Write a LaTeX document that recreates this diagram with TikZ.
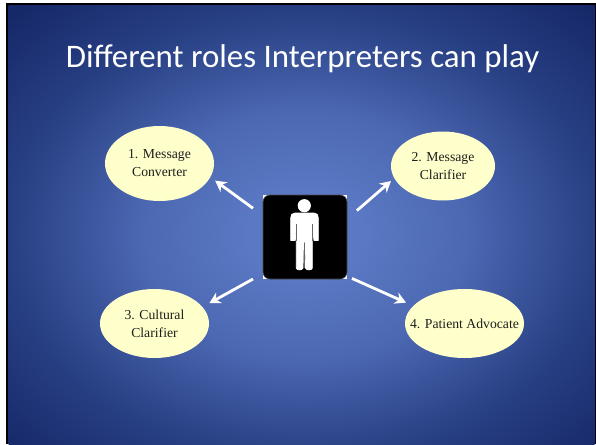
\documentclass[tikz,border=0pt]{standalone}
\usepackage{fontspec}
\usetikzlibrary{shapes.geometric,arrows.meta}
\setmainfont{Liberation Serif}
\newfontfamily\titlefont{Carlito}
\definecolor{cream}{RGB}{255,255,204}
\definecolor{bgA}{RGB}{90,120,195}
\definecolor{bgB}{RGB}{76,104,178}
\definecolor{bgC}{RGB}{40,64,132}
\definecolor{bgD}{RGB}{22,40,104}
\definecolor{inktext}{RGB}{30,30,30}
\pgfdeclareradialshading{slidebg}{\pgfpoint{0bp}{0bp}}{%
  color(0bp)=(bgA);color(4bp)=(bgA);color(11.2bp)=(bgB);color(20bp)=(bgC);color(28.3bp)=(bgD);color(50bp)=(bgD)}
\tikzset{
  role/.style={ellipse,fill=cream,inner sep=0pt,outer sep=0pt,align=center,text=inktext,
    font=\fontsize{13.7}{18}\selectfont},
  link/.style={draw=white,line width=2.8pt,-{Stealth[length=11pt,width=12pt]}},
  personshape/.style={fill=white,draw=white,line width=0.8pt,line join=round},
  persongap/.style={draw=black!60,line width=0.8pt},
}
\begin{document}
\begin{tikzpicture}[x=1pt,y=-1pt]
\useasboundingbox (0,0) rectangle (596,444);
\fill[white] (0,0) rectangle (596,444);
\fill[black] (6,3) rectangle (596,444);
\begin{scope}
\clip (8.5,6) rectangle (594.5,444);
\shade[shading=slidebg] (-59,-41) rectangle (669,511);
\end{scope}
\node[font=\titlefont\fontsize{32.9}{38}\selectfont,text=white,anchor=center] (title) at (302.5,59) {Different roles Interpreters can play};
\node[role,minimum width=109pt,minimum height=75pt] (e1) at (159.5,163.5) {1. Message\\Converter};
\node[role,minimum width=104pt,minimum height=69pt] (e2) at (443,166) {2. Message\\Clarifier};
\node[role,minimum width=109pt,minimum height=69pt] (e3) at (154.5,323.5) {3. Cultural\\Clarifier};
\node[role,inner xsep=-16pt,minimum width=119pt,minimum height=69pt] (e4) at (464.5,323.5) {4. Patient Advocate};
\node[fill=white,minimum size=84pt,inner sep=0pt,outer sep=0pt] (box) at (305,237) {};
\fill[black,draw=black!70,line width=0.6pt,rounded corners=7pt] (box.north west) rectangle (box.south east);
\fill[white] (304.3,205.7) circle (6.6);
\path[personshape] (295,213) -- (314,213) .. controls (317,213) and (318.3,215) .. (318.3,218)
  -- (318.3,240.5) -- (314,240.5) -- (312.3,227) -- (312.3,268) .. controls (312.3,270.5) and (306,270.5) .. (305.5,268)
  -- (305,242) -- (303.5,242) -- (303,268) .. controls (302.5,270.5) and (296.3,270.5) .. (296.3,268)
  -- (296.3,227) -- (295,240.5) -- (290.7,240.5) -- (290.7,218) .. controls (290.7,215) and (292,213) .. (295,213) -- cycle;
\draw[persongap] (296.3,224) -- (296.3,241);
\draw[persongap] (312.3,224) -- (312.3,241);
\draw[persongap] (304.3,243) -- (304.3,268);
\draw[link,shorten <=12.4pt,shorten >=6pt] (box.153.9) -- (e1.-15.3);
\draw[link,shorten <=13.1pt,shorten >=4.4pt] (box.23.8) -- (e2.194);
\draw[link,shorten <=11.4pt,shorten >=8pt] (box.221) -- (e3.19.4);
\draw[link,shorten <=5.5pt,shorten >=8pt] (box.-43.5) -- (e4.161.3);
\end{tikzpicture}
\end{document}
